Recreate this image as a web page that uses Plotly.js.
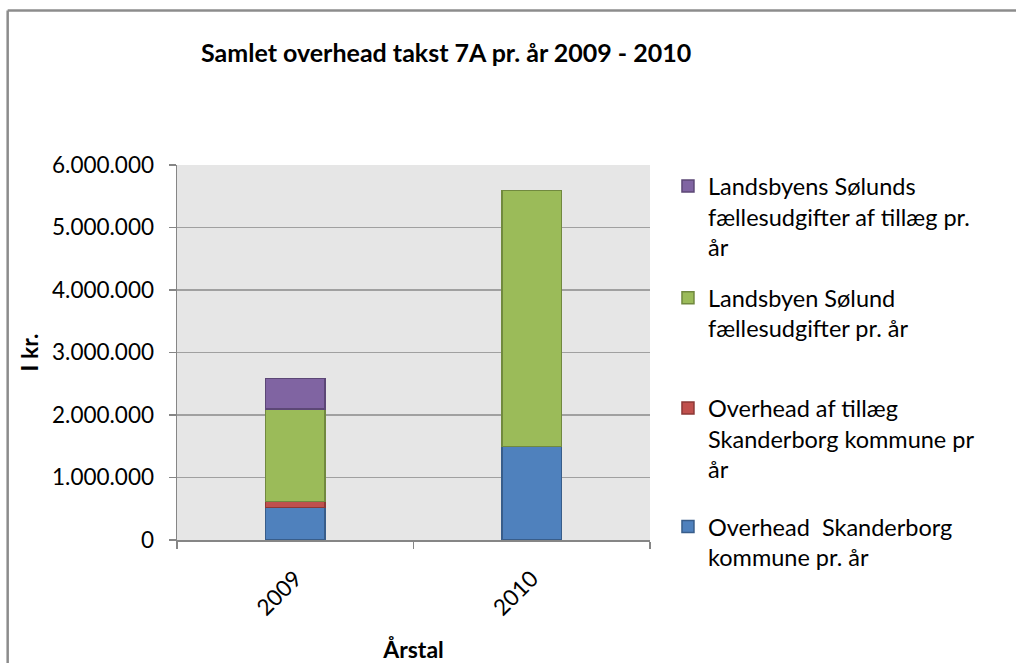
<!DOCTYPE html>
<html>
<head>
<meta charset="utf-8">
<script src="https://cdn.plot.ly/plotly-3.0.1.min.js"></script>
<style>html,body{margin:0;padding:0;background:#fff;overflow:hidden;width:1016px;height:663px;}#chart{width:1016px;height:663px;overflow:hidden;}</style>
</head>
<body>
<div id="chart"></div>
<script>
var years = ['2009', '2010'];
var overheadSkanderborg = [520000, 1500000];
var overheadTillaeg = [95000, 0];
var solundFaelles = [1480000, 4090000];
var solundTillaeg = [490000, 0];

var names = [
  'Overhead  Skanderborg<br>kommune pr. år',
  'Overhead af tillæg<br>Skanderborg kommune pr<br>år',
  'Landsbyen Sølund<br>fællesudgifter pr. år',
  'Landsbyens Sølunds<br>fællesudgifter af tillæg pr.<br>år'
];
var fills = ['#4F81BD', '#C0504D', '#9BBB59', '#8064A2'];
var borders = ['#385D8A', '#8C3836', '#71893F', '#5C4776'];
var series = [overheadSkanderborg, overheadTillaeg, solundFaelles, solundTillaeg];
var legendIds = ['legend4', 'legend3', 'legend2', 'legend'];

var FONT = 'Lato, "Open Sans", sans-serif';

var traces = series.map(function (vals, i) {
  return {
    type: 'bar',
    x: years,
    y: vals,
    name: names[i],
    legend: legendIds[i],
    showlegend: true,
    marker: {color: fills[i], line: {color: borders[i], width: vals.map(function (v) { return v > 0 ? 1.5 : 0; })}},
    hoverinfo: 'x+y'
  };
});

function legendAt(y) {
  return {
    x: 1.038, y: y, xanchor: 'left', yanchor: 'top',
    xref: 'paper', yref: 'paper',
    bgcolor: 'rgba(0,0,0,0)', borderwidth: 0,
    font: {family: FONT, size: 23.5, color: '#000'},
    itemwidth: 30, valign: 'top'
  };
}

var layout = {
  width: 1016, height: 663,
  showlegend: true,
  margin: {l: 177, r: 366, t: 165, b: 123},
  paper_bgcolor: '#FFFFFF',
  plot_bgcolor: '#E6E6E6',
  separators: ',.',
  barmode: 'stack',
  bargap: 0.75,
  font: {family: FONT, color: '#000'},
  title: {
    text: '<b>Samlet overhead takst 7A pr. år 2009 - 2010</b>',
    font: {family: FONT, size: 25, color: '#000'},
    xref: 'paper', x: 0.569, xanchor: 'center',
    yref: 'container', y: 0.92, yanchor: 'middle'
  },
  xaxis: {
    type: 'category',
    tickangle: -45,
    tickson: 'boundaries',
    ticks: 'outside', ticklen: 7, tickcolor: '#868686', tickwidth: 1.5,
    ticklabelstandoff: 15,
    showline: true, linecolor: '#868686', linewidth: 1.5,
    showgrid: false,
    tickfont: {family: FONT, size: 22.5, color: '#000'},
    title: {text: '<b>Årstal</b>', font: {family: FONT, size: 23, color: '#000'}, standoff: 22}
  },
  yaxis: {
    range: [0, 6000000],
    tickvals: [0, 1000000, 2000000, 3000000, 4000000, 5000000, 6000000],
    tickformat: ',d',
    ticks: 'outside', ticklen: 7, tickcolor: '#868686', tickwidth: 1.5,
    ticklabelstandoff: 10,
    showline: true, linecolor: '#868686', linewidth: 1.5,
    showgrid: true, gridcolor: '#A0A0A0', gridwidth: 1.5,
    zeroline: false,
    tickfont: {family: FONT, size: 22.5, color: '#000'},
    title: {text: '<b>I kr.</b>', font: {family: FONT, size: 23, color: '#000'}, standoff: 7}
  },
  legend: legendAt(1.002),
  legend2: legendAt(0.704),
  legend3: legendAt(0.41),
  legend4: legendAt(0.094),
  shapes: [
    {type: 'line', xref: 'paper', yref: 'paper', x0: -0.358, x1: 1.775, y0: 1.412, y1: 1.412,
     line: {color: '#8C8C8C', width: 2.5}, layer: 'below'},
    {type: 'line', xref: 'paper', yref: 'paper', x0: -0.358, x1: -0.358, y0: -0.35, y1: 1.412,
     line: {color: '#8C8C8C', width: 2.5}, layer: 'below'}
  ]
};

Plotly.newPlot('chart', traces, layout, {displayModeBar: false, staticPlot: true});
</script>
</body>
</html>
